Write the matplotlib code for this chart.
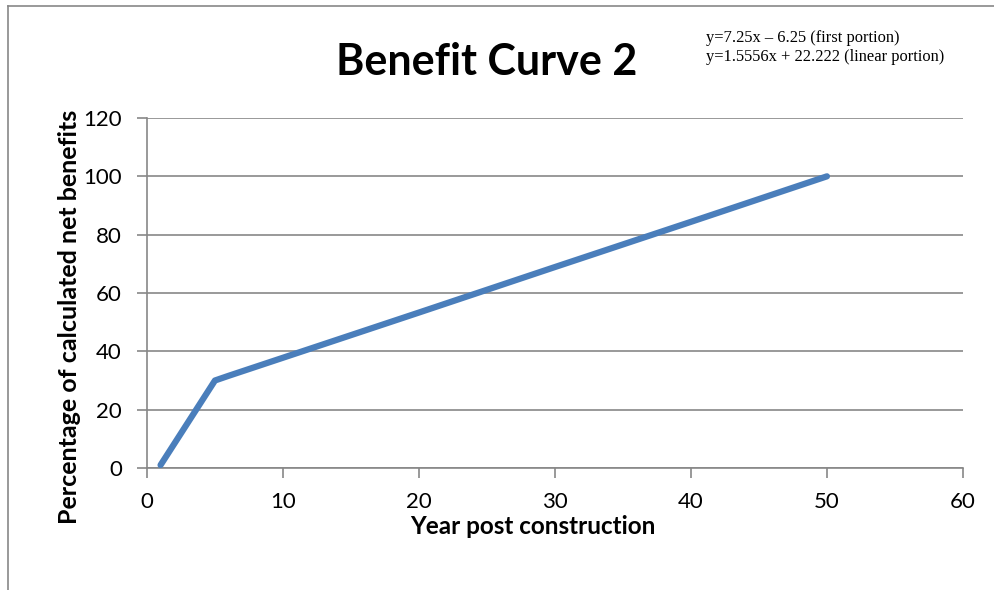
# Benefit Curve 2 -- redraw of an Excel line chart
import matplotlib
matplotlib.use('Agg')
from matplotlib import pyplot as plt
from matplotlib.lines import Line2D

# -----------------------------------------------------------------------------
years = [1, 2, 3, 4, 5, 6, 10, 20, 30, 40, 50]
benefit = [1.0, 8.25, 15.5, 22.75, 30.0, 31.6, 37.8, 53.3, 68.9, 84.4, 100.0]
xticks = [0, 10, 20, 30, 40, 50, 60]
yticks = [0, 20, 40, 60, 80, 100, 120]
eq_lines = ['y=7.25x \u2013 6.25 (first portion)',
            'y=1.5556x + 22.222 (linear portion)']

# -----------------------------------------------------------------------------
sans = ['Lato', 'DejaVu Sans']
grey = '#878787'

fig = plt.figure(figsize=(9.95, 5.9), dpi=100)
ax = fig.add_axes([0.1477, 0.2068, 0.9678 - 0.1477, 0.8 - 0.2068])

ax.plot(years, benefit, color='#4A7EBB', linewidth=4.5,
        solid_joinstyle='round', solid_capstyle='round', zorder=3)

ax.set_xlim(0, 60); ax.set_ylim(0, 120)
ax.set_xticks(xticks); ax.set_yticks(yticks)
ax.yaxis.grid(True, color=grey, linewidth=1.2)
ax.set_axisbelow(True)
for s in ['top', 'right']:
    ax.spines[s].set_visible(False)
for s in ['left', 'bottom']:
    ax.spines[s].set_color(grey); ax.spines[s].set_linewidth(1.2)
ax.tick_params(direction='out', length=7, width=1.2, color=grey,
               labelsize=16)
ax.tick_params(axis='y', pad=11)
ax.tick_params(axis='x', pad=10)
for lab in ax.get_xticklabels() + ax.get_yticklabels():
    lab.set_family(sans)

fig.text(0.4894, 1 - 62 / 590, 'Benefit Curve 2', ha='center', va='center',
         fontsize=31, fontweight='bold', family=sans)
fig.text(0.5357, 1 - 526 / 590, 'Year post construction', ha='center',
         va='center', fontsize=17.5, fontweight='bold', family=sans)
fig.text(70 / 995, 1 - 317 / 590, 'Percentage of calculated net benefits',
         ha='center', va='center', rotation=90, fontsize=18,
         fontweight='bold', family=sans)
for i, t in enumerate(eq_lines):
    fig.text(706 / 995, 1 - (38 + 19 * i) / 590, t, ha='left', va='center',
             fontsize=11.9, family=['Liberation Serif', 'DejaVu Serif'])

# outer chart frame (left and top edges only visible)
fig.add_artist(Line2D([8 / 995, 8 / 995], [0, 1 - 6 / 590],
                      color=grey, linewidth=1.2))
fig.add_artist(Line2D([8 / 995, 1], [1 - 6 / 590, 1 - 6 / 590],
                      color=grey, linewidth=1.2))

fig.savefig('out.png', dpi=100)
